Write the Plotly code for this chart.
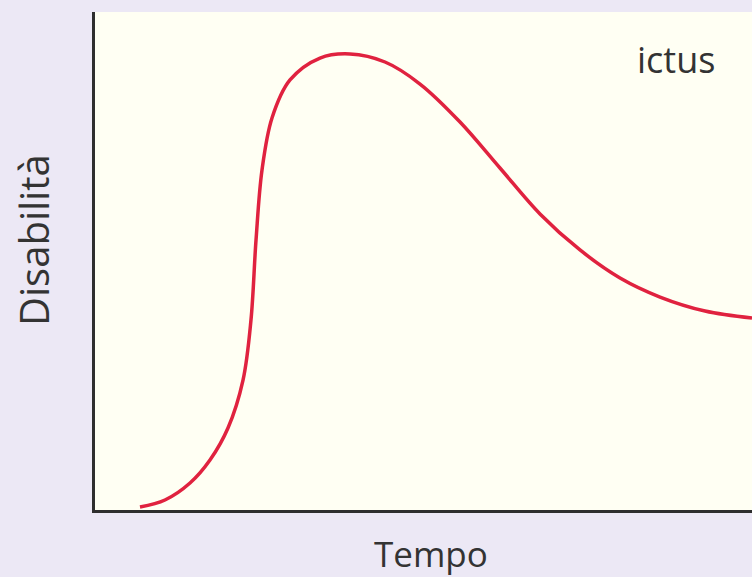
import plotly.graph_objects as go

tempo = [6.85, 10.65, 14.46, 17.50, 20.24, 22.53, 23.74, 24.51, 25.42, 26.94, 29.68, 34.25, 38.81,
         44.14, 49.47, 55.56, 61.64, 67.73, 73.82, 79.91, 86.00, 92.85, 100.0]
disabilita = [0.60, 2.01, 5.42, 10.04, 16.47, 26.10, 38.15, 54.22, 68.27, 78.71, 86.35, 90.76, 91.57,
              89.96, 85.54, 77.91, 68.67, 59.44, 52.21, 46.59, 42.77, 39.96, 38.55]
label = "ictus"
x_title = "Tempo"
y_title = "Disabilità"

font = "Open Sans, Noto Sans, sans-serif"

fig = go.Figure()
fig.add_trace(go.Scatter(
    x=tempo, y=disabilita, mode="lines",
    line=dict(color="#e0223f", width=3.5, shape="spline", smoothing=1.0),
    hoverinfo="skip", showlegend=False,
))

fig.update_layout(
    width=752, height=577,
    margin=dict(l=95, r=0, t=12, b=67),
    paper_bgcolor="#ece8f5",
    plot_bgcolor="#fffff3",
    xaxis=dict(range=[0, 100], showgrid=False, zeroline=False, showticklabels=False,
               ticks="", showline=True, linecolor="#2e2e2e", linewidth=3, fixedrange=True),
    yaxis=dict(range=[0, 100], showgrid=False, zeroline=False, showticklabels=False,
               ticks="", showline=True, linecolor="#2e2e2e", linewidth=3, fixedrange=True),
    annotations=[
        dict(text=label, xref="paper", yref="paper", x=(676 - 95) / 657, y=(510 - 60) / 498,
             xanchor="center", yanchor="middle", showarrow=False,
             font=dict(family=font, size=36, color="#333333")),
        dict(text=x_title, xref="paper", yref="paper", x=(431 - 95) / 657, y=-(553 - 510) / 498,
             xanchor="center", yanchor="middle", showarrow=False,
             font=dict(family=font, size=35, color="#333333")),
        dict(text=y_title, xref="paper", yref="paper", x=-(95 - 33) / 657, y=(510 - 240) / 498,
             xanchor="center", yanchor="middle", showarrow=False, textangle=-90,
             font=dict(family=font, size=40, color="#333333")),
    ],
)

fig.write_html("out.html", config={"displayModeBar": False},
               post_script="document.body.style.margin='0';")
